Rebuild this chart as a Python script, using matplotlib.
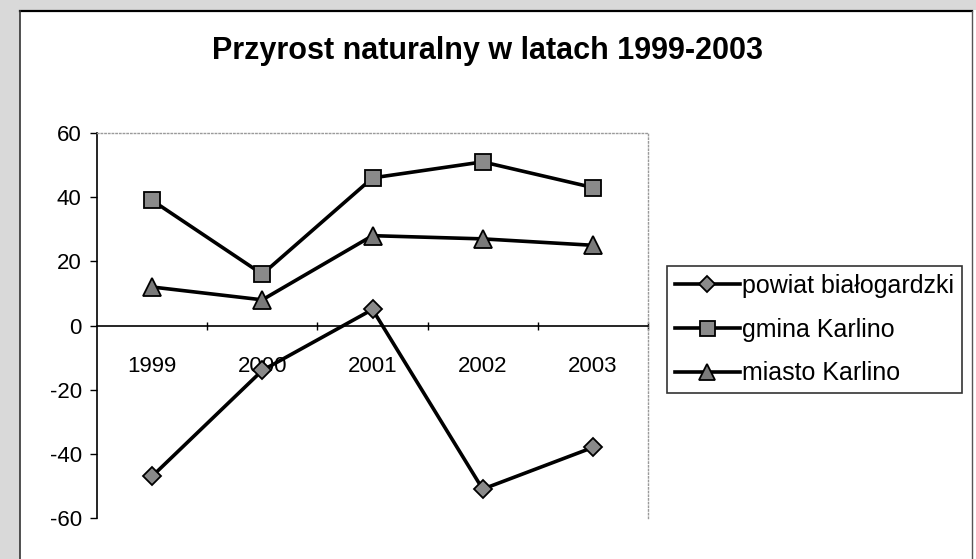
import matplotlib.pyplot as plt
from matplotlib.patches import Rectangle

plt.rcParams["font.family"] = ["Liberation Sans", "DejaVu Sans"]
plt.rcParams["axes.unicode_minus"] = False

years = ["1999", "2000", "2001", "2002", "2003"]
powiat = [-47, -14, 5, -51, -38]
gmina = [39, 16, 46, 51, 43]
miasto = [12, 8, 28, 27, 25]

fig = plt.figure(figsize=(9.76, 5.59), dpi=100)
fig.patch.set_facecolor("white")

# szary okraj skanu i ramka wykresu
fig.patches.append(Rectangle((0, 0), 20 / 976, 1, transform=fig.transFigure,
                             facecolor="#d9d9d9", edgecolor="none", zorder=0))
fig.patches.append(Rectangle((0, 1 - 10 / 559), 1, 10 / 559, transform=fig.transFigure,
                             facecolor="#d9d9d9", edgecolor="none", zorder=0))
fig.add_artist(plt.Line2D([20 / 976, 972 / 976], [1 - 11 / 559, 1 - 11 / 559],
                          transform=fig.transFigure, color="black", lw=1.6))
fig.add_artist(plt.Line2D([20 / 976, 20 / 976], [0, 1 - 11 / 559],
                          transform=fig.transFigure, color="#333333", lw=1.2))
fig.add_artist(plt.Line2D([972 / 976, 972 / 976], [0, 1 - 11 / 559],
                          transform=fig.transFigure, color="#555555", lw=1.0))

ax = fig.add_axes([97 / 976, 1 - 518 / 559, 551 / 976, 385 / 559])
ax.set_facecolor("white")

x = range(len(years))
ax.plot(x, powiat, color="black", lw=2.6, marker="D", ms=9,
        mfc="#8a8a8a", mec="black", mew=1.3, label="powiat białogardzki")
ax.plot(x, gmina, color="black", lw=2.6, marker="s", ms=12,
        mfc="#8a8a8a", mec="black", mew=1.3, label="gmina Karlino")
ax.plot(x, miasto, color="black", lw=2.6, marker="^", ms=13,
        mfc="#7a7a7a", mec="black", mew=1.3, label="miasto Karlino")

ax.set_xlim(-0.5, len(years) - 0.5)
ax.set_ylim(-60, 60)
ax.set_yticks(range(-60, 61, 20))
ax.tick_params(axis="y", direction="out", length=5, width=1, pad=6, labelsize=16)

ax.set_xticks(x)
ax.set_xticklabels(years)
ax.set_xticks([i + 0.5 for i in x], minor=True)
ax.tick_params(axis="x", which="major", length=0, pad=22, labelsize=16)
ax.tick_params(axis="x", which="minor", direction="inout", length=6, width=1)

ax.spines["bottom"].set_position(("data", 0))
ax.spines["bottom"].set_linewidth(1.2)
ax.spines["left"].set_linewidth(1.2)
for side in ["top", "right"]:
    ax.spines[side].set_color("#9a9a9a")
    ax.spines[side].set_linestyle(":")
    ax.spines[side].set_linewidth(1.0)

fig.text(487 / 976, 1 - 51 / 559, "Przyrost naturalny w latach 1999-2003",
         ha="center", va="center", fontsize=22, fontweight="bold")

leg = fig.legend(loc="upper left", bbox_to_anchor=(667 / 976, 1 - 266 / 559),
                 fontsize=18, frameon=True, fancybox=False, handlelength=2.6,
                 handletextpad=0.1, borderpad=0.3, labelspacing=0.8,
                 borderaxespad=0, markerscale=0.9)
leg.get_frame().set_edgecolor("black")
leg.get_frame().set_linewidth(1.2)

fig.savefig("out.png", dpi=100)
